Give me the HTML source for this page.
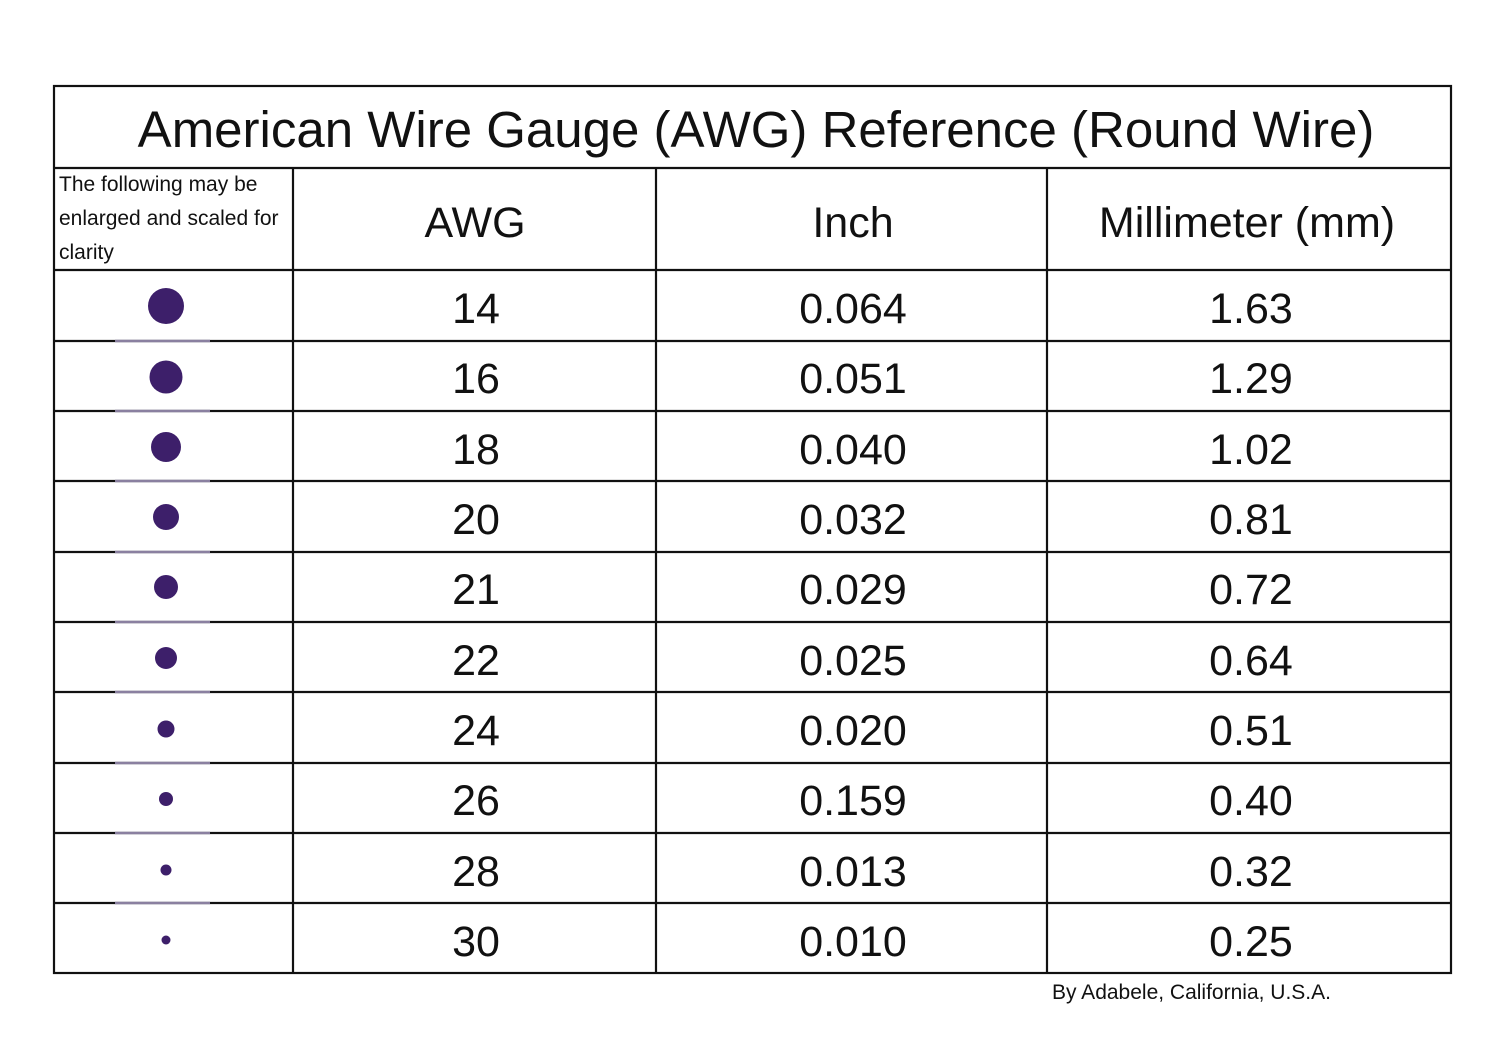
<!DOCTYPE html>
<html><head><meta charset="utf-8"><style>
html,body{margin:0;padding:0;background:#fff;}
svg{display:block;}
text{font-family:"Liberation Sans",sans-serif;fill:#111;}
</style></head><body>
<svg width="1500" height="1056" viewBox="0 0 1500 1056">
<rect x="0" y="0" width="1500" height="1056" fill="#fff"/>
<g stroke="#111" stroke-width="2.2" fill="none">
<rect x="54" y="86" width="1397" height="887"/>
<line x1="54" y1="168" x2="1451" y2="168"/>
<line x1="54" y1="270" x2="1451" y2="270"/>
<line x1="54" y1="341" x2="1451" y2="341"/>
<line x1="54" y1="411" x2="1451" y2="411"/>
<line x1="54" y1="481" x2="1451" y2="481"/>
<line x1="54" y1="552" x2="1451" y2="552"/>
<line x1="54" y1="622" x2="1451" y2="622"/>
<line x1="54" y1="692" x2="1451" y2="692"/>
<line x1="54" y1="763" x2="1451" y2="763"/>
<line x1="54" y1="833" x2="1451" y2="833"/>
<line x1="54" y1="903" x2="1451" y2="903"/>
<line x1="293" y1="168" x2="293" y2="973"/>
<line x1="656" y1="168" x2="656" y2="973"/>
<line x1="1047" y1="168" x2="1047" y2="973"/>
</g>
<g stroke="#8a80a0" stroke-width="2.5">
<line x1="115" y1="341" x2="210" y2="341"/>
<line x1="115" y1="411" x2="210" y2="411"/>
<line x1="115" y1="481" x2="210" y2="481"/>
<line x1="115" y1="552" x2="210" y2="552"/>
<line x1="115" y1="622" x2="210" y2="622"/>
<line x1="115" y1="692" x2="210" y2="692"/>
<line x1="115" y1="763" x2="210" y2="763"/>
<line x1="115" y1="833" x2="210" y2="833"/>
<line x1="115" y1="903" x2="210" y2="903"/>
</g>
<g fill="#3d1f6a">
<circle cx="166" cy="306" r="18"/>
<circle cx="166" cy="377" r="16.5"/>
<circle cx="166" cy="447" r="15"/>
<circle cx="166" cy="517" r="13"/>
<circle cx="166" cy="587" r="12"/>
<circle cx="166" cy="658" r="11"/>
<circle cx="166" cy="729" r="8.5"/>
<circle cx="166" cy="799" r="7"/>
<circle cx="166" cy="870" r="5.5"/>
<circle cx="166" cy="940" r="4.5"/>
</g>
<text x="756" y="147" font-size="51" text-anchor="middle">American Wire Gauge (AWG) Reference (Round Wire)</text>
<text x="59" y="191" font-size="21">The following may be</text>
<text x="59" y="225" font-size="21">enlarged and scaled for</text>
<text x="59" y="259" font-size="21">clarity</text>
<g font-size="43" text-anchor="middle">
<text x="475" y="237">AWG</text>
<text x="853" y="237">Inch</text>
<text x="1247" y="237">Millimeter (mm)</text>
<text x="476" y="323">14</text><text x="853" y="323">0.064</text><text x="1251" y="323">1.63</text>
<text x="476" y="393">16</text><text x="853" y="393">0.051</text><text x="1251" y="393">1.29</text>
<text x="476" y="464">18</text><text x="853" y="464">0.040</text><text x="1251" y="464">1.02</text>
<text x="476" y="534">20</text><text x="853" y="534">0.032</text><text x="1251" y="534">0.81</text>
<text x="476" y="604">21</text><text x="853" y="604">0.029</text><text x="1251" y="604">0.72</text>
<text x="476" y="675">22</text><text x="853" y="675">0.025</text><text x="1251" y="675">0.64</text>
<text x="476" y="745">24</text><text x="853" y="745">0.020</text><text x="1251" y="745">0.51</text>
<text x="476" y="815">26</text><text x="853" y="815">0.159</text><text x="1251" y="815">0.40</text>
<text x="476" y="886">28</text><text x="853" y="886">0.013</text><text x="1251" y="886">0.32</text>
<text x="476" y="956">30</text><text x="853" y="956">0.010</text><text x="1251" y="956">0.25</text>
</g>
<text x="1052" y="999" font-size="21">By Adabele, California, U.S.A.</text>
</svg>
</body></html>
